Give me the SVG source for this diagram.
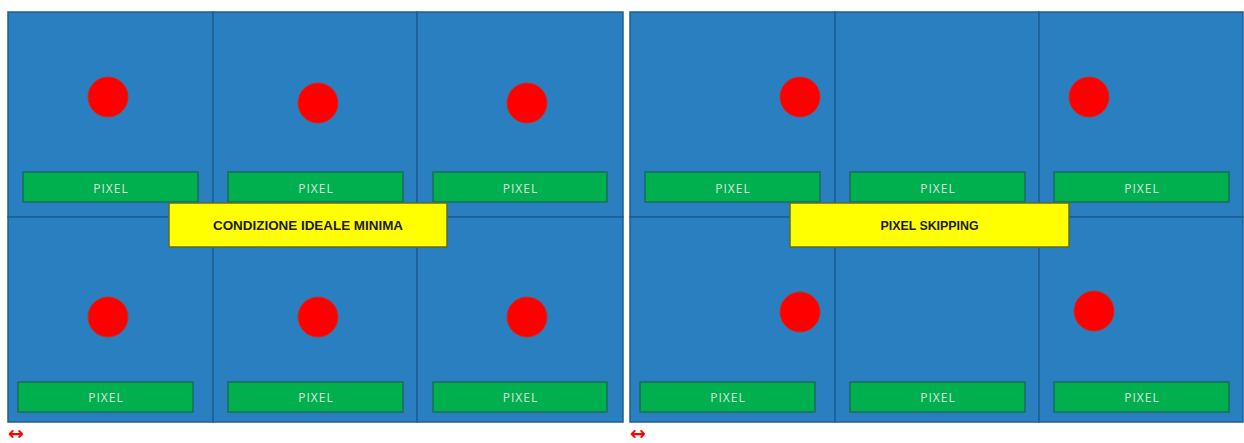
<svg xmlns="http://www.w3.org/2000/svg" width="1244" height="443" viewBox="0 0 1244 443">
<style>
.cell{fill:#2a7fc0;stroke:#1d5f94;stroke-width:1.5}
.dot{fill:#ff0000;stroke:#c0302a;stroke-width:1}
.bar{fill:#00b04f;stroke:#1a6e5a;stroke-width:1.5}
.pix{font-family:"Open Sans","DejaVu Sans",sans-serif;font-size:12px;fill:#dfe6df;text-anchor:middle;letter-spacing:1px}
.lbl{fill:#ffff00;stroke:#5a6e2a;stroke-width:1.5}
.lt{font-family:"Liberation Sans",Arial,sans-serif;font-weight:bold;font-size:13px;fill:#1a1a1a;text-anchor:middle}
.arr{font-family:"DejaVu Sans",sans-serif;font-size:19px;font-weight:bold;fill:#ff0000}
</style>
<rect width="1244" height="443" fill="#ffffff"/>
<!-- Left panel -->
<g id="left-panel">
  <g id="L-c1"><rect class="cell" x="8" y="12" width="205" height="205"/><circle class="dot" cx="108" cy="97" r="20"/><rect class="bar" x="23" y="172" width="175" height="30"/><text class="pix" x="111" y="193">PIXEL</text></g>
  <g id="L-c2"><rect class="cell" x="213" y="12" width="204" height="205"/><circle class="dot" cx="318" cy="103" r="20"/><rect class="bar" x="228" y="172" width="175" height="30"/><text class="pix" x="316" y="193">PIXEL</text></g>
  <g id="L-c3"><rect class="cell" x="417" y="12" width="206" height="205"/><circle class="dot" cx="527" cy="103" r="20"/><rect class="bar" x="433" y="172" width="174" height="30"/><text class="pix" x="520.5" y="193">PIXEL</text></g>
  <g id="L-c4"><rect class="cell" x="8" y="217" width="205" height="205"/><circle class="dot" cx="108" cy="317" r="20"/><rect class="bar" x="18" y="382" width="175" height="30"/><text class="pix" x="106" y="402">PIXEL</text></g>
  <g id="L-c5"><rect class="cell" x="213" y="217" width="204" height="205"/><circle class="dot" cx="318" cy="317" r="20"/><rect class="bar" x="228" y="382" width="175" height="30"/><text class="pix" x="316" y="402">PIXEL</text></g>
  <g id="L-c6"><rect class="cell" x="417" y="217" width="206" height="205"/><circle class="dot" cx="527" cy="317" r="20"/><rect class="bar" x="433" y="382" width="174" height="30"/><text class="pix" x="520.5" y="402">PIXEL</text></g>
  <g id="L-label"><rect class="lbl" x="169" y="203" width="278" height="44"/><text class="lt" x="308" y="229.5" textLength="190" lengthAdjust="spacingAndGlyphs">CONDIZIONE IDEALE MINIMA</text></g>
</g>
<!-- Right panel -->
<g id="right-panel">
  <g id="R-c1"><rect class="cell" x="630" y="12" width="205" height="205"/><circle class="dot" cx="800" cy="97" r="20"/><rect class="bar" x="645" y="172" width="175" height="30"/><text class="pix" x="733" y="193">PIXEL</text></g>
  <g id="R-c2"><rect class="cell" x="835" y="12" width="204" height="205"/><rect class="bar" x="850" y="172" width="175" height="30"/><text class="pix" x="938" y="193">PIXEL</text></g>
  <g id="R-c3"><rect class="cell" x="1039" y="12" width="204" height="205"/><circle class="dot" cx="1089" cy="97" r="20"/><rect class="bar" x="1054" y="172" width="175" height="30"/><text class="pix" x="1142" y="193">PIXEL</text></g>
  <g id="R-c4"><rect class="cell" x="630" y="217" width="205" height="205"/><circle class="dot" cx="800" cy="312" r="20"/><rect class="bar" x="640" y="382" width="175" height="30"/><text class="pix" x="728" y="402">PIXEL</text></g>
  <g id="R-c5"><rect class="cell" x="835" y="217" width="204" height="205"/><rect class="bar" x="850" y="382" width="175" height="30"/><text class="pix" x="938" y="402">PIXEL</text></g>
  <g id="R-c6"><rect class="cell" x="1039" y="217" width="204" height="205"/><circle class="dot" cx="1094" cy="311" r="20"/><rect class="bar" x="1054" y="382" width="175" height="30"/><text class="pix" x="1142" y="402">PIXEL</text></g>
  <g id="R-label"><rect class="lbl" x="790" y="203" width="279" height="44"/><text class="lt" x="929.5" y="229.5" textLength="98" lengthAdjust="spacingAndGlyphs">PIXEL SKIPPING</text></g>
</g>
<g id="connectors">
  <text class="arr" x="8" y="440">↔</text>
  <text class="arr" x="630" y="440">↔</text>
</g>
</svg>
